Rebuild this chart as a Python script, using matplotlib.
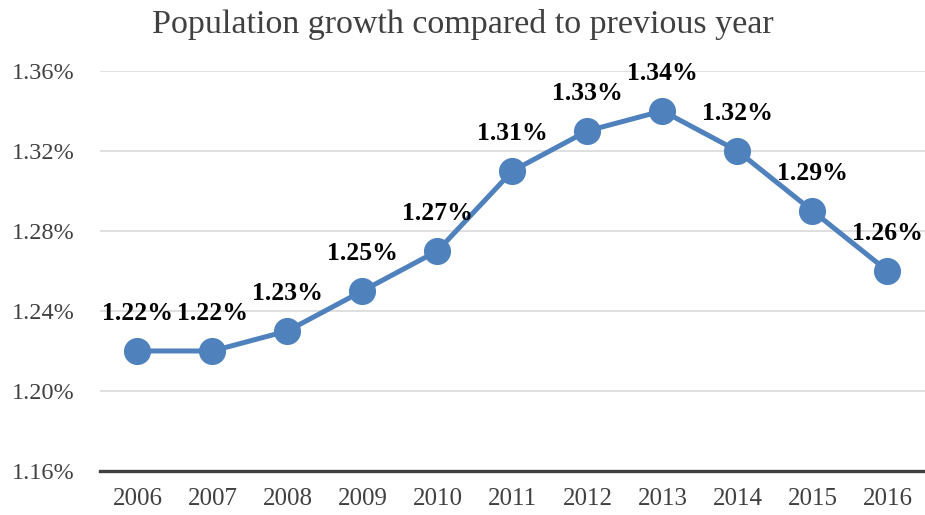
import matplotlib
matplotlib.use("Agg")
import matplotlib.pyplot as plt
from matplotlib.ticker import FuncFormatter

years = ["2006", "2007", "2008", "2009", "2010", "2011", "2012", "2013", "2014", "2015", "2016"]
growth = [1.22, 1.22, 1.23, 1.25, 1.27, 1.31, 1.33, 1.34, 1.32, 1.29, 1.26]
y_ticks = [1.16, 1.20, 1.24, 1.28, 1.32, 1.36]

plt.rcParams['font.family'] = ['Liberation Serif', 'DejaVu Serif']

fig = plt.figure(figsize=(9.25, 5.15), dpi=100)
ax = fig.add_axes([0.108, 0.0854, 0.892, 0.777])

x = list(range(len(years)))
ax.plot(x, growth, color="#4F81BD", lw=3.6, marker="o", markersize=18.5, zorder=3)

# value labels above each point
for xi, v in zip(x, growth):
    ax.annotate(f"{v:.2f}%", (xi, v), xytext=(0, 27), textcoords="offset points",
                ha="center", va="center", fontsize=18.5, fontweight="bold", color="black", zorder=4)

ax.set_xlim(-0.5, len(years) - 0.5)
ax.set_ylim(1.16, 1.36)
ax.set_xticks(x)
ax.set_xticklabels(years)
ax.set_yticks(y_ticks)
ax.yaxis.set_major_formatter(FuncFormatter(lambda v, p: f"{v:.2f}%"))
ax.grid(axis="y", color="#D9D9D9", lw=1.2, zorder=0)
ax.tick_params(axis="both", length=0, labelcolor="#404040")
ax.tick_params(axis="x", pad=12, labelsize=18)
ax.tick_params(axis="y", pad=18, labelsize=17.5)
for s in ["top", "right", "left"]:
    ax.spines[s].set_visible(False)
ax.spines["bottom"].set_color("#404040")
ax.spines["bottom"].set_linewidth(2.4)
ax.spines["bottom"].set_zorder(5)

fig.text(0.5, 0.953, "Population growth compared to previous year", ha="center", va="center",
         fontsize=24.5, color="#404040")

fig.savefig("out.png", dpi=100)
